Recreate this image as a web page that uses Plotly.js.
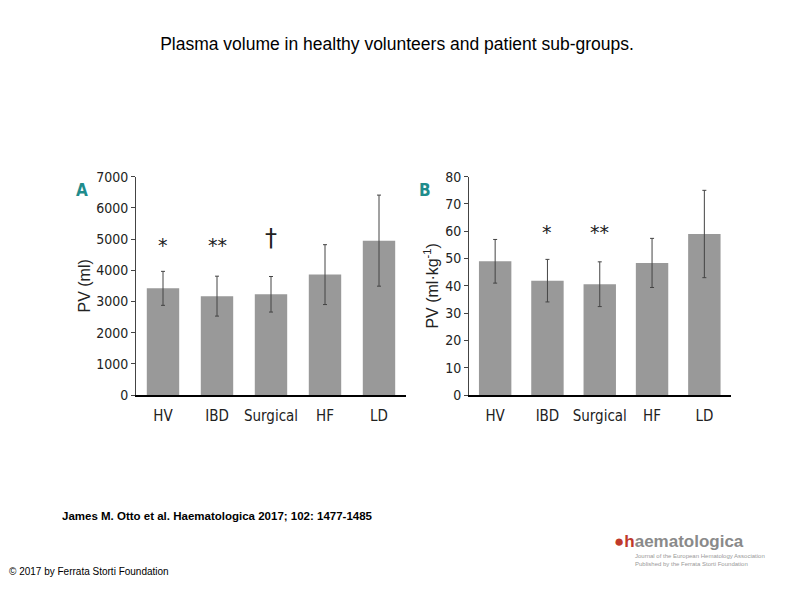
<!DOCTYPE html>
<html>
<head>
<meta charset="utf-8">
<script src="https://cdn.plot.ly/plotly-3.0.1.min.js"></script>
<style>html,body{margin:0;padding:0;background:#fff;}#chart{width:794px;height:595px;}</style>
</head>
<body>
<div id="chart"></div>
<script>
// ---- data ----
var categories = ['HV', 'IBD', 'Surgical', 'HF', 'LD'];
var pvMl = [3420, 3170, 3230, 3860, 4950];
var pvMlSD = [545, 640, 570, 960, 1460];
var pvMlKg = [49.0, 41.9, 40.6, 48.4, 59.0];
var pvMlKgSD = [8.0, 7.8, 8.2, 9.0, 16.0];
var sigA = ['*', '**', '†', '', ''];
var sigAy = [4800, 4800, 5030, 0, 0];
var sigB = ['', '*', '**', '', ''];
var sigBy = [0, 59.8, 59.8, 0, 0];
var ticksA = [0, 1000, 2000, 3000, 4000, 5000, 6000, 7000];
var ticksB = [0, 10, 20, 30, 40, 50, 60, 70, 80];

var narrow = '"DejaVu Sans Condensed", "Liberation Sans Narrow", "Arial Narrow", "Liberation Sans", sans-serif';
var barColor = '#999999';
var errStyle = {type: 'data', visible: true, color: '#444444', thickness: 1, width: 2};

var traces = [
  {type: 'bar', x: categories, y: pvMl, xaxis: 'x', yaxis: 'y',
   marker: {color: barColor}, width: 0.6,
   error_y: Object.assign({array: pvMlSD}, errStyle), hoverinfo: 'x+y'},
  {type: 'bar', x: categories, y: pvMlKg, xaxis: 'x2', yaxis: 'y2',
   marker: {color: barColor}, width: 0.62,
   error_y: Object.assign({array: pvMlKgSD}, errStyle), hoverinfo: 'x+y'}
];

var annotations = [];
categories.forEach(function (c, i) {
  if (sigA[i]) annotations.push({x: c, y: sigAy[i], xref: 'x', yref: 'y', text: sigA[i], showarrow: false,
    font: {family: 'DejaVu Sans, sans-serif', size: sigA[i] === '†' ? 24 : 19, color: '#222'}});
  if (sigB[i]) annotations.push({x: c, y: sigBy[i], xref: 'x2', yref: 'y2', text: sigB[i], showarrow: false,
    font: {family: 'DejaVu Sans, sans-serif', size: 19, color: '#222'}});
});
annotations.push(
  {x: 74 / 794, y: 1 - 178 / 595, xref: 'paper', yref: 'paper', text: '<b>A</b>', showarrow: false,
   font: {family: narrow, size: 17, color: '#1f8c8c'}},
  {x: 425 / 794, y: 1 - 178 / 595, xref: 'paper', yref: 'paper', text: '<b>B</b>', showarrow: false,
   font: {family: narrow, size: 17, color: '#1f8c8c'}},
  {x: 60 / 794, y: 1 - 524 / 595, xref: 'paper', yref: 'paper', xanchor: 'left', text: '<b>James M. Otto et al. Haematologica 2017; 102: 1477-1485</b>',
   showarrow: false, font: {family: 'Liberation Sans, Arial, sans-serif', size: 11.5, color: '#000'}},
  {x: 7 / 794, y: 1 - 579 / 595, xref: 'paper', yref: 'paper', xanchor: 'left', text: '© 2017 by Ferrata Storti Foundation',
   showarrow: false, font: {family: 'Liberation Sans, Arial, sans-serif', size: 10, color: '#000'}},
  {x: 612 / 794, y: 1 - 553 / 595, xref: 'paper', yref: 'paper', xanchor: 'left',
   text: '<span style="color:#c0392b">●</span><b><span style="color:#c0392b">h</span>aematologica</b>',
   showarrow: false, font: {family: 'Liberation Sans, Arial, sans-serif', size: 17, color: '#8a8a8a'}},
  {x: 633 / 794, y: 1 - 569 / 595, xref: 'paper', yref: 'paper', xanchor: 'left',
   text: 'Journal of the European Hematology Association<br>Published by the Ferrata Storti Foundation',
   showarrow: false, align: 'left', font: {family: 'Liberation Sans, Arial, sans-serif', size: 6, color: '#999'}}
);

function yax(range, ticks, domain, title, titleStandoff) {
  return {
    range: range, tickvals: ticks, domain: domain, showgrid: false, zeroline: false,
    showline: true, linecolor: '#444', linewidth: 1, ticks: 'outside', ticklen: 4, tickcolor: '#444',
    tickfont: {family: narrow, size: 14, color: '#222'}, fixedrange: true,
    title: {text: title, standoff: titleStandoff, font: {family: 'Liberation Sans, Arial, sans-serif', size: 16, color: '#222'}}
  };
}
function xax(domain, anchor) {
  return {
    domain: domain, anchor: anchor, showgrid: false, zeroline: false, showline: true,
    linecolor: '#000', linewidth: 1.5, ticks: '', ticklabelstandoff: 6,
    tickfont: {family: narrow, size: 15, color: '#222'}, fixedrange: true
  };
}

var yDomain = [1 - 395 / 595, 1 - 176.7 / 595];
var layout = {
  width: 794, height: 595, margin: {l: 0, r: 0, t: 0, b: 0},
  paper_bgcolor: '#fff', plot_bgcolor: '#fff', showlegend: false, bargap: 0.4,
  title: {text: 'Plasma volume in healthy volunteers and patient sub-groups.', x: 0.5, xanchor: 'center',
    y: 1 - 44 / 595, yanchor: 'middle', font: {family: 'Liberation Sans, Arial, sans-serif', size: 17.5, color: '#000'}},
  xaxis: xax([136 / 794, 406 / 794], 'y'),
  yaxis: yax([0, 7000], ticksA, yDomain, 'PV (ml)', 1),
  xaxis2: xax([469 / 794, 730.5 / 794], 'y2'),
  yaxis2: Object.assign(yax([0, 80], ticksB, yDomain, 'PV (ml·kg<sup>-1</sup>)', 2), {anchor: 'x2'}),
  annotations: annotations
};
layout.yaxis.anchor = 'x';

Plotly.newPlot('chart', traces, layout, {displayModeBar: false, staticPlot: true});
</script>
</body>
</html>
